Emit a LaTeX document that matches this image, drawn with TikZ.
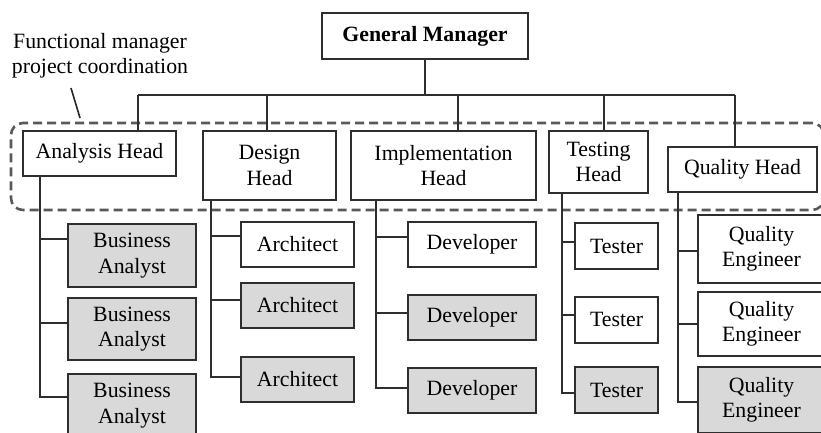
\documentclass[tikz,border=0pt]{standalone}
\usepackage{fontspec}
\setmainfont{Liberation Serif}
\usetikzlibrary{positioning}

\begin{document}
\begin{tikzpicture}[x=1pt,y=-1pt,
    txt/.style={font=\fontsize{21.8}{25.5}\selectfont},
    box/.style={txt,draw=black!82,line width=2pt,fill=white,align=center,inner sep=0pt},
    shaded/.style={box,fill=black!15},
    link/.style={draw=black!82,line width=2pt},
    group/.style={draw=black!65,line width=2.6pt,dash pattern=on 9pt off 5pt,rounded corners=12pt,inner sep=0pt}]
    \useasboundingbox (0,0) rectangle (821,432);
    \clip (0,0) rectangle (821,432);

    % coordination group and its label
    \node[group,minimum width=813pt,minimum height=87pt] (grp) at (417.5,166.5) {};
    \node[txt,align=center,inner sep=0pt] (lbl) at (100,56) {Functional manager\\project coordination};
    \coordinate (ldrA) at (71,88);
    \coordinate (ldrB) at (80,118);
    \draw[link,black!85,line width=1.6pt] (ldrA) -- (ldrB);

    % top
    \node[box,font=\fontsize{21.8}{25.5}\selectfont\bfseries,minimum width=206pt,minimum height=46pt] (gm) at (425,36) {General Manager};

    % heads
    \node[box,minimum width=153pt,minimum height=45pt] (ana) at (99.5,153.5) {Analysis Head};
    \node[box,minimum width=133pt,minimum height=69pt] (des) at (269.5,165.5) {Design\\Head};
    \node[box,minimum width=185pt,minimum height=69pt] (imp) at (443.5,165.5) {Implementation\\Head};
    \node[box,minimum width=99pt,minimum height=62pt] (tst) at (598.5,162) {Testing\\Head};
    \node[box,minimum width=149pt,minimum height=45pt] (qua) at (742.5,169.5) {Quality Head};

    % staff
    \node[shaded,minimum width=128pt,minimum height=63pt] (ba1) at (132,255.5) {Business\\Analyst};
    \node[shaded,minimum width=128pt,minimum height=62pt] (ba2) at (132,329) {Business\\Analyst};
    \node[shaded,minimum width=128pt,minimum height=63pt] (ba3) at (132,405.5) {Business\\Analyst};

    \node[box,minimum width=113pt,minimum height=45pt] (ar1) at (297.5,244.5) {Architect};
    \node[shaded,minimum width=113pt,minimum height=45pt] (ar2) at (297.5,305.5) {Architect};
    \node[shaded,minimum width=113pt,minimum height=45pt] (ar3) at (297.5,379) {Architect};

    \node[box,minimum width=128pt,minimum height=45pt] (dv1) at (472,244.5) {Developer};
    \node[shaded,minimum width=128pt,minimum height=45pt] (dv2) at (472,317.5) {Developer};
    \node[shaded,minimum width=128pt,minimum height=45pt] (dv3) at (472,390.5) {Developer};

    \node[box,minimum width=83pt,minimum height=46pt] (ts1) at (616.5,246) {Tester};
    \node[box,minimum width=83pt,minimum height=46pt] (ts2) at (616.5,319.5) {Tester};
    \node[shaded,minimum width=83pt,minimum height=46pt] (ts3) at (616.5,390) {Tester};

    \node[box,minimum width=127pt,minimum height=68pt] (qe1) at (761.5,249) {Quality\\Engineer};
    \node[box,minimum width=127pt,minimum height=64pt] (qe2) at (761.5,324) {Quality\\Engineer};
    \node[shaded,minimum width=127pt,minimum height=66pt] (qe3) at (761.5,400) {Quality\\Engineer};

    % bus from the general manager
    \coordinate (busA) at (138,95);
    \coordinate (busD) at (267,95);
    \coordinate (busI) at (458,95);
    \coordinate (busT) at (604,95);
    \coordinate (busQ) at (735,95);
    \draw[link] (gm.south) -- (gm.south |- busA);
    \draw[link] (busA) -- (busQ);
    \draw[link] (busA) -- (busA |- ana.north);
    \draw[link] (busD) -- (busD |- des.north);
    \draw[link] (busI) -- (busI |- imp.north);
    \draw[link] (busT) -- (busT |- tst.north);
    \draw[link] (busQ) -- (busQ |- qua.north);

    % trunks down to the staff
    \coordinate (tA) at (40,0);
    \coordinate (tD) at (211,0);
    \coordinate (tI) at (376,0);
    \coordinate (tT) at (562,0);
    \coordinate (tQ) at (678,0);

    \draw[link] (ana.south -| tA) |- ([yshift=8.5pt]ba3.west);
    \draw[link] ([yshift=16.5pt]ba1.west) -- ++(-28,0);
    \draw[link] ([yshift=6pt]ba2.west) -- ++(-28,0);

    \draw[link] (des.south -| tD) |- ([yshift=2pt]ar3.west);
    \draw[link] ([yshift=8.5pt]ar1.west) -- ++(-30,0);
    \draw[link] ([yshift=5.5pt]ar2.west) -- ++(-30,0);

    \draw[link] (imp.south -| tI) |- ([yshift=2.5pt]dv3.west);
    \draw[link] ([yshift=7.5pt]dv1.west) -- ++(-32,0);
    \draw[link] ([yshift=4.5pt]dv2.west) -- ++(-32,0);

    \draw[link] (tst.south -| tT) |- ([yshift=-3pt]ts3.west);
    \draw[link] ([yshift=4pt]ts1.west) -- ++(-13,0);
    \draw[link] ([yshift=4.5pt]ts2.west) -- ++(-13,0);

    \draw[link] (qua.south -| tQ) |- ([yshift=-2pt]qe3.west);
    \draw[link] ([yshift=-2pt]qe1.west) -- ++(-20,0);
    \draw[link] (qe2.west) -- ++(-20,0);
\end{tikzpicture}
\end{document}
